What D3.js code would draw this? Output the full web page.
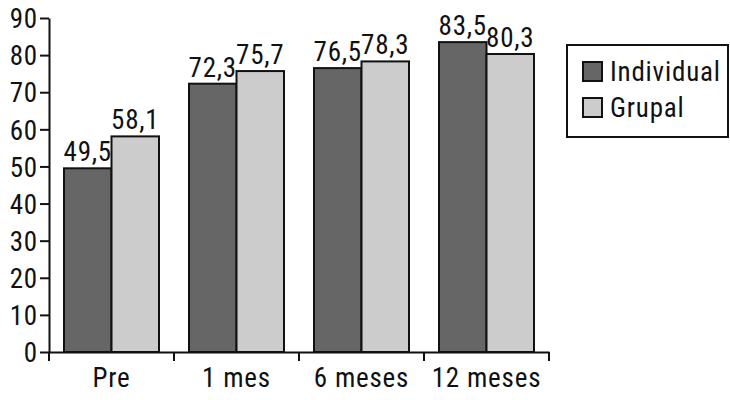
<!DOCTYPE html>
<html>
<head>
<meta charset="utf-8">
<script src="https://cdn.jsdelivr.net/npm/d3@7"></script>
<style>
  body { margin: 0; background: white; }
  svg text { font-family: "Liberation Sans Narrow", "Arial Narrow", "Roboto Condensed", sans-serif; fill: #111; letter-spacing: 0.8px; }
</style>
</head>
<body>
<svg id="chart" width="730" height="400"></svg>
<script>
const categories = ["Pre", "1 mes", "6 meses", "12 meses"];
const seriesNames = ["Individual", "Grupal"];
const individual = [49.5, 72.3, 76.5, 83.5];
const grupal = [58.1, 75.7, 78.3, 80.3];
const yTicks = [0, 10, 20, 30, 40, 50, 60, 70, 80, 90];
const colors = ["#666666", "#cccccc"];
const fontSize = "27px";

const rows = categories.map((c, i) => ({ cat: c, values: [individual[i], grupal[i]] }));

const svg = d3.select("#chart");
const fmt = (v) => v.toFixed(1).replace(".", ",");

const x = d3.scaleBand().domain(categories).range([49, 549]);
const x1 = d3.scaleBand().domain([0, 1]).range([15, 110]);
const y = d3.scaleLinear().domain([0, 90]).range([352, 18]);

// bars
const groups = svg.append("g")
  .selectAll("g")
  .data(rows)
  .enter()
  .append("g")
  .attr("transform", (d) => `translate(${x(d.cat)},0)`);

groups.selectAll("rect")
  .data((d) => d.values)
  .enter()
  .append("rect")
  .attr("x", (d, i) => x1(i))
  .attr("y", (d) => y(d))
  .attr("width", x1.bandwidth())
  .attr("height", (d) => y(0) - y(d))
  .attr("fill", (d, i) => colors[i])
  .attr("stroke", "#111")
  .attr("stroke-width", 2);

groups.selectAll("text")
  .data((d) => d.values)
  .enter()
  .append("text")
  .attr("x", (d, i) => x1(i) + x1.bandwidth() / 2)
  .attr("y", (d) => y(d) - 7)
  .attr("text-anchor", "middle")
  .attr("font-size", fontSize)
  .text(fmt);

// y axis
const yAxis = svg.append("g")
  .attr("transform", "translate(49,0)")
  .call(d3.axisLeft(y).tickValues(yTicks).tickSize(9).tickSizeOuter(0).tickPadding(2));
yAxis.selectAll("text").attr("font-size", fontSize).attr("dy", "0.36em");

// x axis
const xAxis = svg.append("g")
  .attr("transform", `translate(0,${y(0)})`)
  .call(d3.axisBottom(x).tickSize(0).tickSizeOuter(0));
xAxis.selectAll("text").attr("font-size", fontSize).attr("y", 35).attr("dy", 0);
xAxis.selectAll(".tick line").remove();
xAxis.selectAll(".xsep")
  .data(categories.concat(["end"]))
  .enter()
  .append("line")
  .attr("class", "xsep")
  .attr("x1", (d, i) => (i < categories.length ? x(d) : x.range()[1]))
  .attr("x2", (d, i) => (i < categories.length ? x(d) : x.range()[1]))
  .attr("y1", 0)
  .attr("y2", 9)
  .attr("stroke", "#111")
  .attr("stroke-width", 2);

svg.selectAll(".domain, .tick line").attr("stroke", "#111").attr("stroke-width", 2);

// legend
const legend = svg.append("g").attr("transform", "translate(567,45)");
legend.append("rect")
  .attr("width", 161)
  .attr("height", 92)
  .attr("fill", "white")
  .attr("stroke", "#111")
  .attr("stroke-width", 2);

const items = legend.selectAll("g.item")
  .data(seriesNames)
  .enter()
  .append("g")
  .attr("class", "item")
  .attr("transform", (d, i) => `translate(16,${17 + i * 36})`);

items.append("rect")
  .attr("width", 19)
  .attr("height", 19)
  .attr("fill", (d, i) => colors[i])
  .attr("stroke", "#111")
  .attr("stroke-width", 2);

items.append("text")
  .attr("x", 27)
  .attr("y", 19)
  .attr("font-size", fontSize)
  .text((d) => d);
</script>
</body>
</html>
